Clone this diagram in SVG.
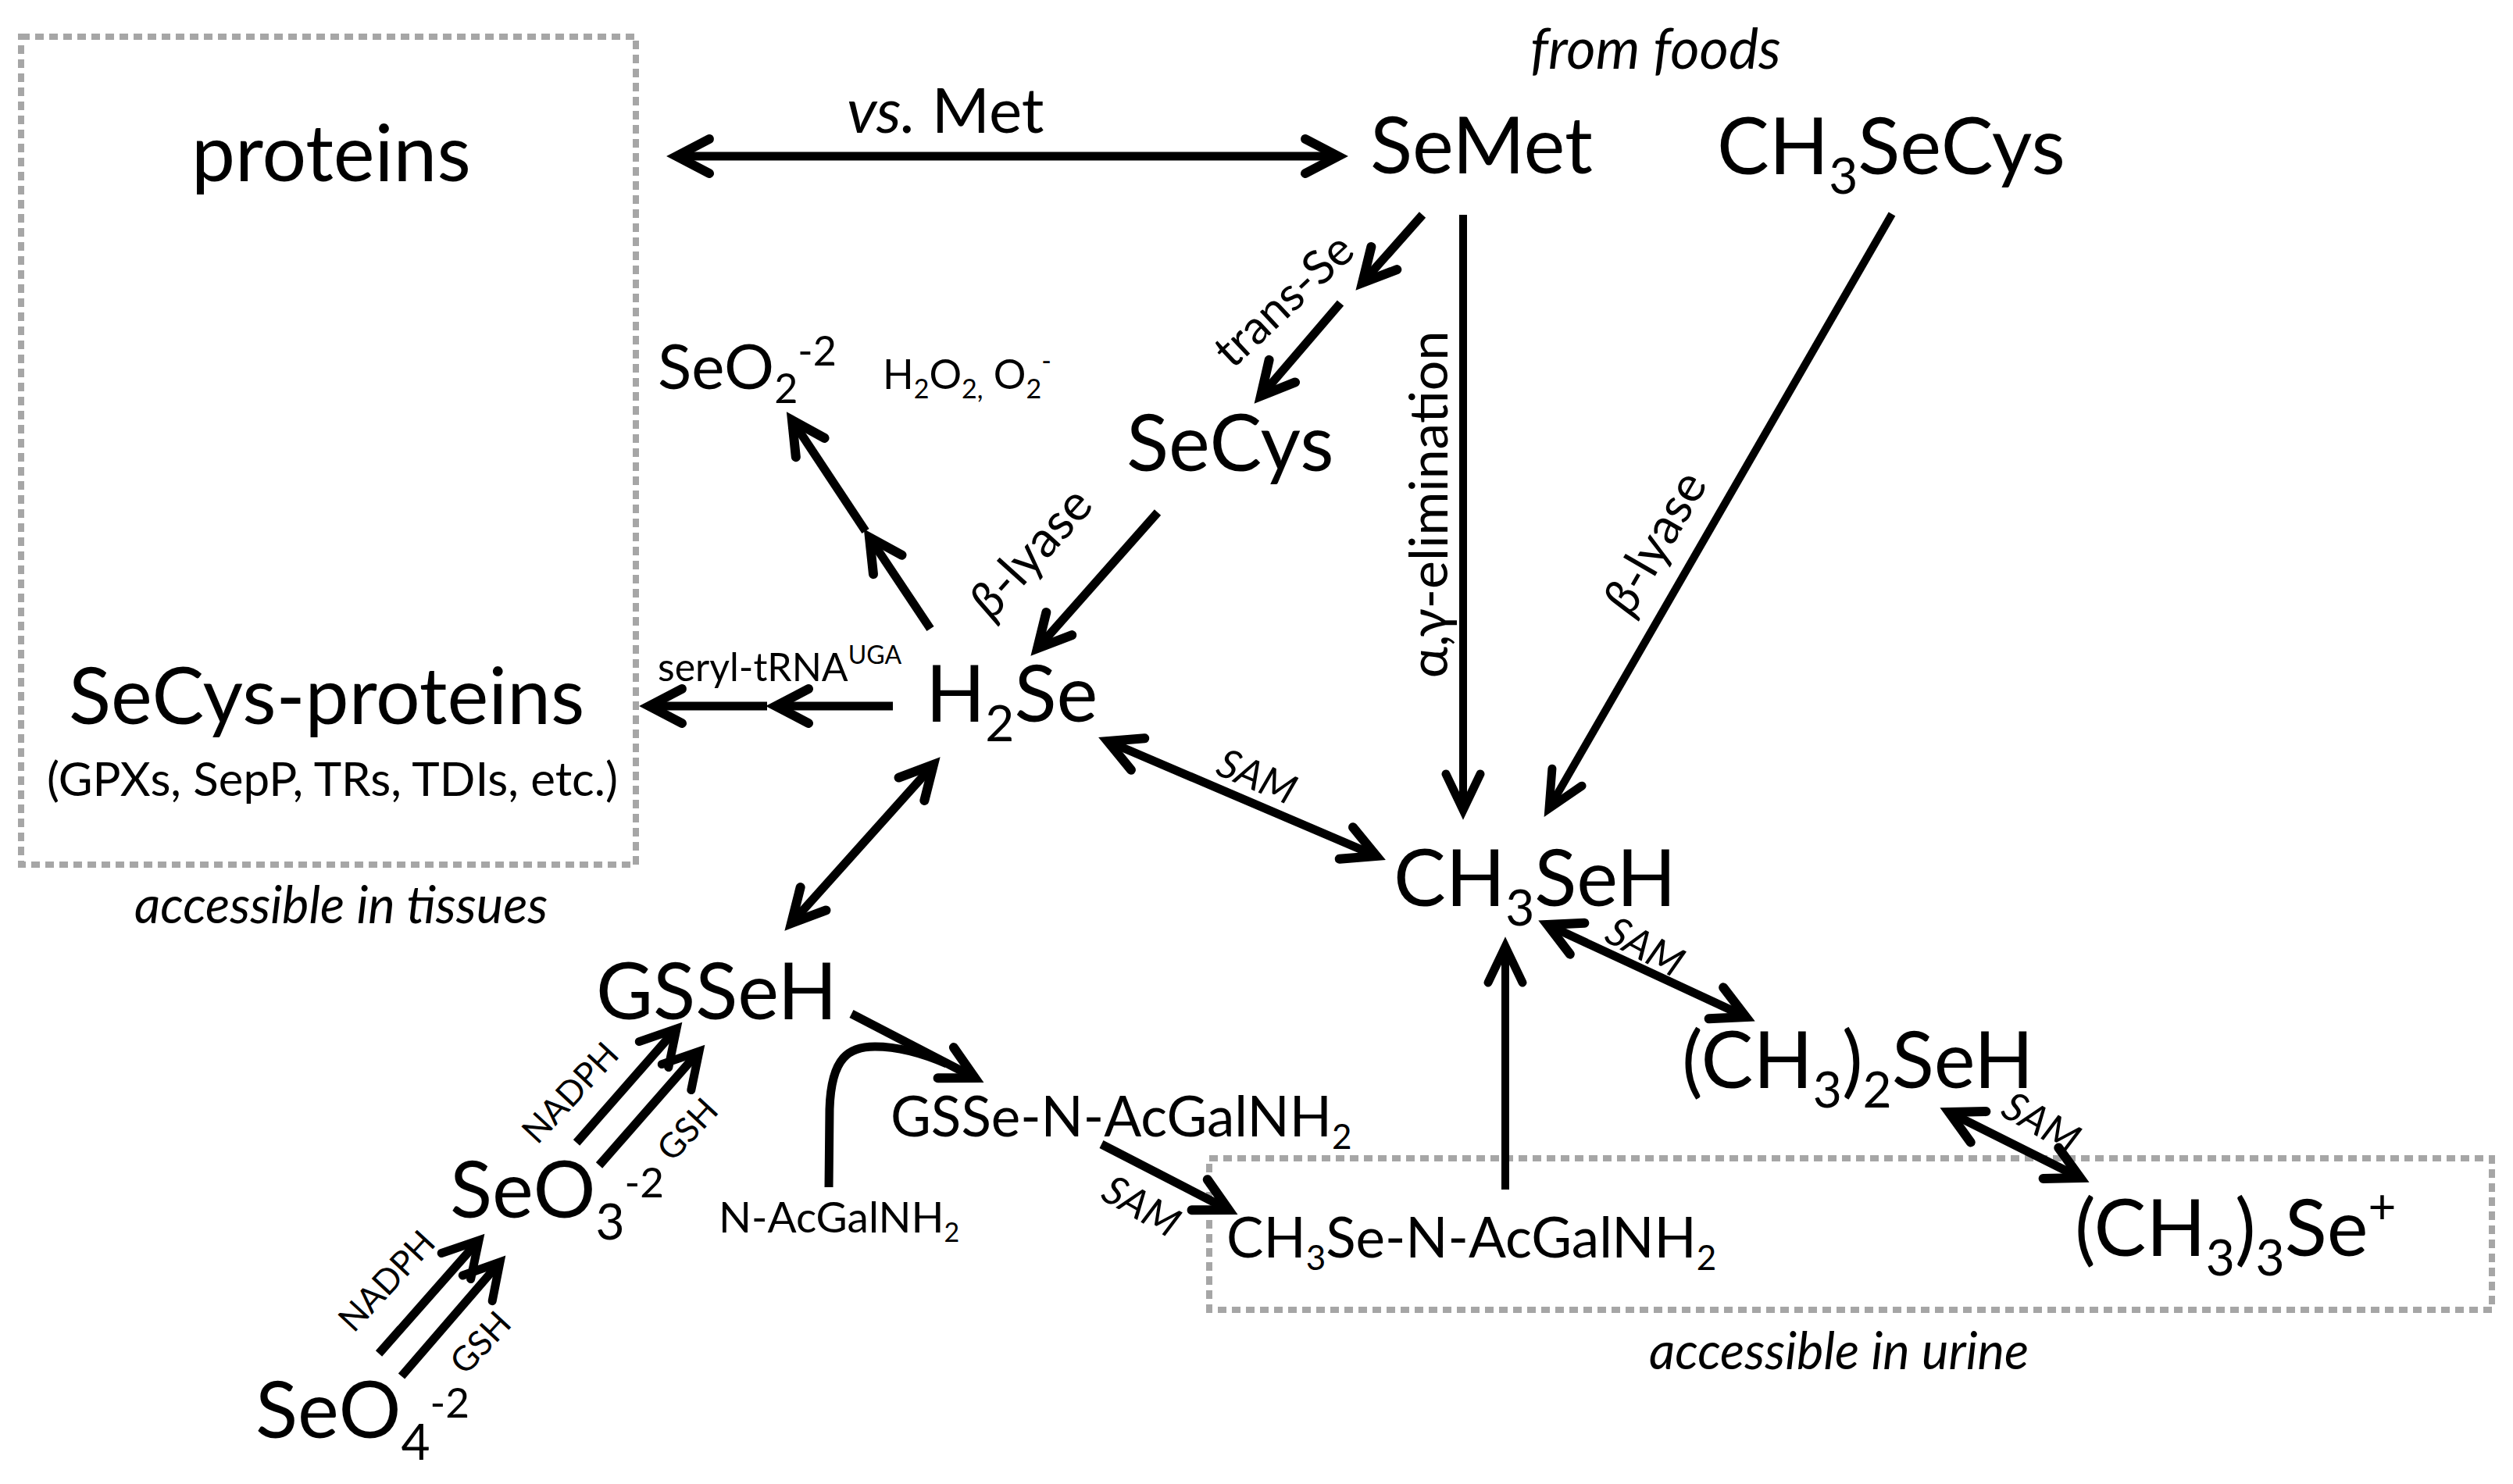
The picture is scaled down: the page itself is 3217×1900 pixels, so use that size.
<svg xmlns="http://www.w3.org/2000/svg" width="3217" height="1900" viewBox="0 0 3217 1900">
<style>
text{font-family:Lato,"Open Sans","Liberation Sans",sans-serif;fill:#000}
.big{font-size:100px}
.mid{font-size:71px}
.it{font-style:italic}
.box{fill:none;stroke:#a6a6a6;stroke-width:8;stroke-dasharray:11 7}
.ar{fill:none;stroke:#000;stroke-width:11;marker-end:url(#ah)}
.ar2{fill:none;stroke:#000;stroke-width:11;marker-end:url(#ah);marker-start:url(#ah)}
.thin{fill:none;stroke:#000;stroke-width:10;marker-end:url(#ahs)}
.nd{fill:none;stroke:#000;stroke-width:11;marker-end:url(#ahn)}
</style>
<defs>
<marker id="ah" markerUnits="userSpaceOnUse" markerWidth="100" markerHeight="100" viewBox="-60 -50 100 100" refX="0" refY="0" orient="auto-start-reverse" overflow="visible">
<path d="M-42,-22 L0,0 L-42,22" fill="none" stroke="#000" stroke-width="12" stroke-linecap="round"/>
</marker>
<marker id="ahs" markerUnits="userSpaceOnUse" markerWidth="100" markerHeight="100" viewBox="-60 -50 100 100" refX="0" refY="0" orient="auto" overflow="visible">
<path d="M-46,-22 L0,0 L-46,22" fill="none" stroke="#000" stroke-width="11" stroke-linecap="round"/>
</marker>
<marker id="ahn" markerUnits="userSpaceOnUse" markerWidth="100" markerHeight="100" viewBox="-60 -50 100 100" refX="0" refY="0" orient="auto" overflow="visible">
<path d="M-44,-25 L0,0 L-44,25" fill="none" stroke="#000" stroke-width="11" stroke-linecap="round"/>
</marker>
</defs>
<rect width="3217" height="1900" fill="#fff"/>

<g id="regions">
<rect class="box" x="27" y="47" width="787" height="1060"/>
<text class="it" x="172" y="1182" font-size="65">accessible in tissues</text>
<rect class="box" x="1548" y="1483" width="1642" height="194"/>
<text class="it" x="2111" y="1753" font-size="65">accessible in urine</text>
<text class="it" x="1959" y="88" font-size="72">from foods</text>
</g>

<g id="connectors">
<line class="ar2" x1="866" y1="200" x2="1713" y2="200"/>
<text x="1084" y="170" font-size="80"><tspan font-style="italic">vs.</tspan> Met</text>
<line class="ar" x1="1821" y1="275" x2="1744" y2="362"/>
<line class="ar" x1="1716" y1="388" x2="1614" y2="507"/>
<text transform="translate(1643,384) rotate(-43)" text-anchor="middle" dy="0.35em" font-size="60">trans-Se</text>
<line class="thin" x1="1873" y1="275" x2="1873" y2="1037"/>
<text transform="translate(1829,646) rotate(-90)" text-anchor="middle" dy="0.35em" font-size="68">α,γ-elimination</text>
<line class="thin" x1="2422" y1="274" x2="1983" y2="1035"/>
<text transform="translate(2118,694) rotate(-60)" text-anchor="middle" dy="0.35em" font-size="64"><tspan font-style="italic">β</tspan>-lyase</text>
<line class="ar" x1="1482" y1="656" x2="1328" y2="830"/>
<text transform="translate(1319,707) rotate(-48)" text-anchor="middle" dy="0.35em" font-size="64"><tspan font-style="italic">β</tspan>-lyase</text>
<line class="ar" x1="1191" y1="805" x2="1113" y2="688"/>
<line class="ar" x1="1108" y1="680" x2="1014" y2="538"/>
<line class="ar" x1="1143" y1="904" x2="993" y2="904"/>
<line class="ar" x1="982" y1="904" x2="831" y2="904"/>
<text x="842" y="872" font-size="50">seryl-tRNA<tspan font-size="32" dy="-22">UGA</tspan></text>
<line class="ar2" x1="1418" y1="949" x2="1762" y2="1096"/>
<text class="it" transform="translate(1609,994) rotate(23)" text-anchor="middle" dy="0.35em" font-size="52">SAM</text>
<line class="ar2" x1="1195" y1="979" x2="1013" y2="1182"/>
<line class="ar" x1="1090" y1="1298" x2="1248" y2="1380"/>
<path d="M1061,1520 L1062,1420 C1064,1352 1088,1340 1120,1340 C1150,1340 1180,1348 1212,1362" fill="none" stroke="#000" stroke-width="11"/>
<line class="ar" x1="1410" y1="1465" x2="1573" y2="1549"/>
<text class="it" transform="translate(1461,1544) rotate(30)" text-anchor="middle" dy="0.35em" font-size="52">SAM</text>
<line class="thin" x1="1927" y1="1523" x2="1927" y2="1212"/>
<line class="ar2" x1="1981" y1="1184" x2="2235" y2="1302"/>
<text class="it" transform="translate(2106,1212) rotate(28)" text-anchor="middle" dy="0.35em" font-size="52">SAM</text>
<line class="ar2" x1="2495" y1="1424" x2="2663" y2="1508"/>
<text class="it" transform="translate(2613,1437) rotate(30)" text-anchor="middle" dy="0.35em" font-size="52">SAM</text>
<line class="nd" x1="738" y1="1463" x2="866" y2="1317"/>
<line class="nd" x1="767" y1="1492" x2="895" y2="1346"/>
<text transform="translate(730,1399) rotate(-47)" text-anchor="middle" dy="0.35em" font-size="44">NADPH</text>
<text transform="translate(880,1446) rotate(-47)" text-anchor="middle" dy="0.35em" font-size="44">GSH</text>
<line class="nd" x1="485" y1="1733" x2="613" y2="1588"/>
<line class="nd" x1="514" y1="1762" x2="640" y2="1616"/>
<text transform="translate(495,1640) rotate(-47)" text-anchor="middle" dy="0.35em" font-size="44">NADPH</text>
<text transform="translate(615,1719) rotate(-47)" text-anchor="middle" dy="0.35em" font-size="44">GSH</text>
</g>

<g id="proteins"><text class="big" x="245" y="232">proteins</text></g>
<g id="SeMet"><text class="big" x="1754" y="222">SeMet</text></g>
<g id="CH3SeCys"><text class="big" x="2198" y="223">CH<tspan font-size="64" dy="25">3</tspan><tspan dy="-25">SeCys</tspan></text></g>
<g id="SeO2"><text x="842" y="498" font-size="80">SeO<tspan font-size="52" dy="18">2</tspan><tspan font-size="52" dy="-48">-2</tspan></text></g>
<g id="H2O2"><text x="1130" y="498" font-size="52">H<tspan font-size="34" dy="12">2</tspan><tspan dy="-12">O</tspan><tspan font-size="34" dy="12">2,</tspan><tspan dy="-12"> O</tspan><tspan font-size="34" dy="12">2</tspan><tspan font-size="34" dy="-36">-</tspan></text></g>
<g id="SeCys"><text class="big" x="1442" y="603">SeCys</text></g>
<g id="H2Se"><text class="big" x="1185" y="924">H<tspan font-size="64" dy="25">2</tspan><tspan dy="-25">Se</tspan></text></g>
<g id="SeCys-proteins"><text class="big" x="88" y="927" font-size="102">SeCys-proteins</text>
<text x="60" y="1019" font-size="60">(GPXs, SepP, TRs, TDIs, etc.)</text></g>
<g id="CH3SeH"><text class="big" x="1784" y="1160">CH<tspan font-size="64" dy="25">3</tspan><tspan dy="-25">SeH</tspan></text></g>
<g id="GSSeH"><text class="big" x="763" y="1305">GSSeH</text></g>
<g id="GSSe-N-AcGalNH2"><text class="mid" x="1140" y="1455">GSSe-N-AcGalNH<tspan font-size="44" dy="16">2</tspan></text></g>
<g id="N-AcGalNH2"><text x="920" y="1578" font-size="55">N-AcGalNH<tspan font-size="34" dy="12">2</tspan></text></g>
<g id="SeO3"><text class="big" x="576" y="1559">SeO<tspan font-size="64" dy="28">3</tspan><tspan font-size="53" dy="-54">-2</tspan></text></g>
<g id="SeO4"><text class="big" x="327" y="1841">SeO<tspan font-size="64" dy="28">4</tspan><tspan font-size="53" dy="-54">-2</tspan></text></g>
<g id="CH3Se-N-AcGalNH2"><text class="mid" x="1570" y="1610">CH<tspan font-size="44" dy="16">3</tspan><tspan dy="-16">Se-N-AcGalNH</tspan><tspan font-size="44" dy="16">2</tspan></text></g>
<g id="CH3_2SeH"><text class="big" x="2153" y="1393">(CH<tspan font-size="64" dy="25">3</tspan><tspan dy="-25">)</tspan><tspan font-size="64" dy="25">2</tspan><tspan dy="-25">SeH</tspan></text></g>
<g id="CH3_3Se"><text class="big" x="2656" y="1608">(CH<tspan font-size="64" dy="25">3</tspan><tspan dy="-25">)</tspan><tspan font-size="64" dy="25">3</tspan><tspan dy="-25">Se</tspan><tspan font-size="62" dy="-42">+</tspan></text></g>
</svg>
